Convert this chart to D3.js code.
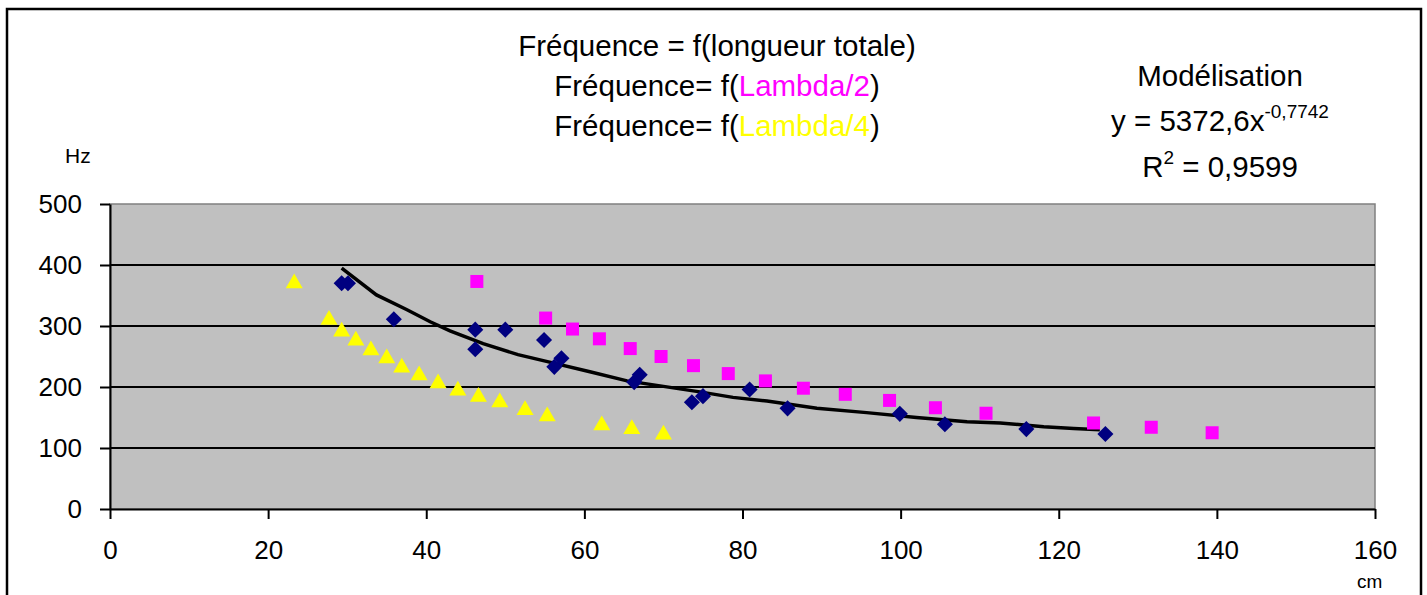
<!DOCTYPE html>
<html>
<head>
<meta charset="utf-8">
<script src="https://cdn.jsdelivr.net/npm/d3@7"></script>
<style>
  body { margin: 0; background: #fff; }
  text { font-family: "Liberation Sans", Arial, sans-serif; fill: #000; }
</style>
</head>
<body>
<div id="container"></div>
<script>
// longueur totale (cm) / frequence (Hz)
const totalLen  = [29.3, 30.1, 35.9, 46.2, 46.2, 50.0, 54.9, 56.2, 57.1, 66.3, 67.0, 73.6, 75.0, 80.9, 85.7, 99.9, 105.6, 115.9, 125.9];
const totalFreq = [370, 370, 311, 294, 262, 294, 277, 233, 247, 208, 220, 175, 185, 196, 165, 156, 139, 131, 123];

// Lambda/2
const halfLen  = [46.4, 55.1, 58.5, 61.9, 65.8, 69.7, 73.8, 78.2, 82.9, 87.7, 93.0, 98.6, 104.4, 110.8, 124.4, 131.7, 139.4];
const halfFreq = [373, 313, 295, 279, 263, 250, 235, 222, 210, 198, 188, 178, 166, 157, 141, 134, 125];

// Lambda/4
const quarterLen  = [23.3, 27.7, 29.3, 31.1, 33.0, 35.0, 36.9, 39.1, 41.5, 44.0, 46.6, 49.3, 52.5, 55.3, 62.2, 66.0, 70.0];
const quarterFreq = [370, 310, 291, 276, 260, 247, 232, 219, 206, 194, 184, 175, 162, 152, 137, 131, 122];

// modelisation line
const modelLen  = [29.3, 33.7, 37.5, 40.5, 43.0, 47.2, 51.6, 55.2, 60.7, 65.4, 70.0, 74.6, 78.8, 83.1, 89.4, 95.7, 102.0, 108.4, 112.6, 118.1, 121.9, 125.2];
const modelFreq = [395, 351, 327, 307, 292, 271, 253, 242, 225, 210, 201, 192, 183, 177, 165, 158, 150, 143, 141, 135, 132, 130];

const xTicks = [0, 20, 40, 60, 80, 100, 120, 140, 160];
const yTicks = [0, 100, 200, 300, 400, 500];

const w = 1427, h = 595;
const margin = {top: 204, left: 110, bottom: 86, right: 52};
const graphWidth = w - margin.left - margin.right;
const graphHeight = h - margin.top - margin.bottom;

const svg = d3.select("#container").append("svg").attr("width", w).attr("height", h);

// outer frame
svg.append("rect").attr("x", 7).attr("y", 9).attr("width", 1414).attr("height", 640)
  .attr("fill", "none").attr("stroke", "#000").attr("stroke-width", 2.5);

const graph = svg.append("g").attr("transform", `translate(${margin.left}, ${margin.top})`);

const xScale = d3.scaleLinear().domain([0, 160]).range([0, graphWidth]);
const yScale = d3.scaleLinear().domain([0, 500]).range([graphHeight, 0]);

graph.append("rect").attr("width", graphWidth).attr("height", graphHeight)
  .attr("fill", "#c0c0c0").attr("stroke", "#808080").attr("stroke-width", 1.5);

// gridlines
graph.selectAll("line.grid").data(yTicks.filter(d => d > 0 && d < 500)).enter()
  .append("line").attr("class", "grid")
  .attr("x1", 0).attr("x2", graphWidth)
  .attr("y1", d => yScale(d)).attr("y2", d => yScale(d))
  .attr("stroke", "#000").attr("stroke-width", 1.8);

// axes
const xAxisGroup = graph.append("g").attr("transform", `translate(0, ${graphHeight})`)
  .call(d3.axisBottom(xScale).tickValues(xTicks).tickSize(10).tickPadding(22).tickSizeOuter(0));
const yAxisGroup = graph.append("g")
  .call(d3.axisLeft(yScale).tickValues(yTicks).tickSize(10).tickPadding(18).tickSizeOuter(0));

[xAxisGroup, yAxisGroup].forEach(g => {
  g.select(".domain").attr("stroke", "#000").attr("stroke-width", 2);
  g.selectAll(".tick line").attr("stroke", "#000").attr("stroke-width", 2);
  g.selectAll(".tick text").attr("font-size", 26).attr("font-family", "Liberation Sans, Arial, sans-serif").attr("fill", "#000");
});
xAxisGroup.selectAll(".tick text").attr("dy", "0.71em");

// model line
const line = d3.line().x(d => xScale(d[0])).y(d => yScale(d[1]));
graph.append("path").datum(d3.zip(modelLen, modelFreq))
  .attr("d", line).attr("fill", "none").attr("stroke", "#000").attr("stroke-width", 3.5);

// markers
graph.selectAll("path.tri").data(d3.zip(quarterLen, quarterFreq)).enter()
  .append("path").attr("class", "tri")
  .attr("d", d3.symbol(d3.symbolTriangle, 125))
  .attr("transform", d => `translate(${xScale(d[0])}, ${yScale(d[1])})`)
  .attr("fill", "#ffff00");

graph.selectAll("rect.sq").data(d3.zip(halfLen, halfFreq)).enter()
  .append("rect").attr("class", "sq")
  .attr("x", d => xScale(d[0]) - 6.5).attr("y", d => yScale(d[1]) - 6.5)
  .attr("width", 13).attr("height", 13)
  .attr("fill", "#ff00ff");

graph.selectAll("path.dia").data(d3.zip(totalLen, totalFreq)).enter()
  .append("path").attr("class", "dia")
  .attr("d", d3.symbol(d3.symbolDiamond2, 165))
  .attr("transform", d => `translate(${xScale(d[0])}, ${yScale(d[1])})`)
  .attr("fill", "#000080");

// titles
const titleX = 717;
const fs = 29.5;
svg.append("text").attr("x", titleX).attr("y", 56).attr("text-anchor", "middle").attr("font-size", fs)
  .text("Fréquence = f(longueur totale)");
const t2 = svg.append("text").attr("x", titleX).attr("y", 96).attr("text-anchor", "middle").attr("font-size", fs);
t2.append("tspan").text("Fréquence= f(");
t2.append("tspan").style("fill", "#ff00ff").text("Lambda/2");
t2.append("tspan").text(")");
const t3 = svg.append("text").attr("x", titleX).attr("y", 136).attr("text-anchor", "middle").attr("font-size", fs);
t3.append("tspan").text("Fréquence= f(");
t3.append("tspan").style("fill", "#ffff00").text("Lambda/4");
t3.append("tspan").text(")");

// modelisation block
const mX = 1220;
svg.append("text").attr("x", mX).attr("y", 86).attr("text-anchor", "middle").attr("font-size", fs).text("Modélisation");
const eq = svg.append("text").attr("x", mX).attr("y", 131).attr("text-anchor", "middle").attr("font-size", fs);
eq.append("tspan").text("y = 5372,6x");
eq.append("tspan").attr("dy", -13).attr("font-size", 19).text("-0,7742");
const r2 = svg.append("text").attr("x", mX).attr("y", 177).attr("text-anchor", "middle").attr("font-size", fs);
r2.append("tspan").text("R");
r2.append("tspan").attr("dy", -13).attr("font-size", 19).text("2");
r2.append("tspan").attr("dy", 13).text(" = 0,9599");

// units
svg.append("text").attr("x", 65).attr("y", 163).attr("font-size", 21).text("Hz");
svg.append("text").attr("x", 1357).attr("y", 588).attr("font-size", 19).text("cm");
</script>
</body>
</html>
